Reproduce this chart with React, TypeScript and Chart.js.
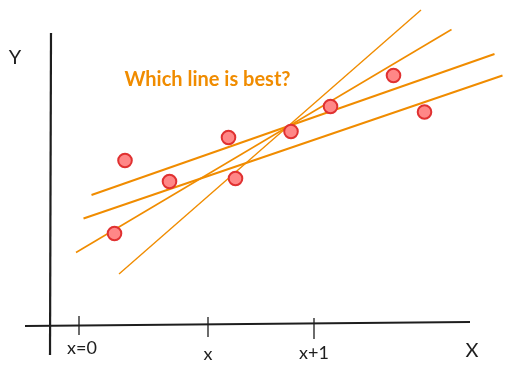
import React, { useEffect, useRef } from "react";
import { Chart, registerables } from "chart.js";

Chart.register(...registerables);

// Data points (abstract units)
const pointXs = [1.5, 1.29, 2.39, 3.57, 3.71, 4.82, 5.61, 6.87, 7.49];
const pointYs = [3.29, 1.83, 2.87, 3.75, 2.93, 3.87, 4.37, 4.99, 4.26];

// Candidate lines: [x1, y1, x2, y2]
const lineA = [1.38, 1.02, 7.42, 6.3];
const lineB = [0.52, 1.45, 8.03, 5.91];
const lineC = [0.83, 2.6, 8.89, 5.42];
const lineD = [0.67, 2.13, 9.05, 4.99];

// Axes
const xAxisLine = [-0.5, -0.02, 8.4, 0.06];
const yAxisLine = [0.02, 5.84, 0.0, -0.6];

// Ticks on the x axis
const tickXs = [0.58, 3.16, 5.28];
const tickLabels = ["x=0", "x", "x+1"];
const tickLabelYs = [-0.46, -0.58, -0.56];

const title = "Which line is best?";
const xAxisTitle = "X";
const yAxisTitle = "Y";

const ORANGE = "#f08c00";
const INK = "#1e1e1e";
const FONT = "Lato, 'Noto Sans', sans-serif";

const seg = (l: number[]) => [
  { x: l[0], y: l[1] },
  { x: l[2], y: l[3] },
];

export default function App() {
  const ref = useRef<HTMLCanvasElement | null>(null);

  useEffect(() => {
    if (!ref.current) return;
    const lineDs = (l: number[], w: number, color: string) => ({
      type: "line" as const,
      data: seg(l),
      borderColor: color,
      borderWidth: w,
      pointRadius: 0,
      fill: false,
      clip: false as any,
      order: 2,
    });

    const textPlugin = {
      id: "labels",
      afterDatasetsDraw(chart: any) {
        const { ctx, scales } = chart;
        const xs = scales.x;
        const ys = scales.y;
        ctx.save();
        ctx.textAlign = "center";
        ctx.textBaseline = "middle";
        ctx.fillStyle = INK;
        ctx.font = `18px ${FONT}`;
        tickLabels.forEach((t, i) => {
          ctx.fillText(t, xs.getPixelForValue(tickXs[i]) + (i === 0 ? 3 : 0), ys.getPixelForValue(tickLabelYs[i]));
        });
        ctx.font = `20px ${FONT}`;
        ctx.fillText(xAxisTitle, xs.getPixelForValue(8.44), ys.getPixelForValue(-0.52));
        ctx.fillText(yAxisTitle, xs.getPixelForValue(-0.7), ys.getPixelForValue(5.35));
        ctx.fillStyle = ORANGE;
        ctx.font = `bold 20px ${FONT}`;
        ctx.fillText(title, xs.getPixelForValue(3.15), ys.getPixelForValue(4.9));
        ctx.restore();
      },
    };

    const chart = new Chart(ref.current, {
      type: "scatter",
      data: {
        datasets: [
          lineDs(xAxisLine, 2.2, INK),
          lineDs(yAxisLine, 2.2, INK),
          ...tickXs.map((tx, i) =>
            lineDs([tx, 0.18 - i * 0.02, tx, -0.2 - i * 0.04], 1.3, INK)
          ),
          lineDs(lineA, 1.4, ORANGE),
          lineDs(lineB, 1.6, ORANGE),
          lineDs(lineC, 2, ORANGE),
          lineDs(lineD, 2, ORANGE),
          {
            type: "scatter" as const,
            data: pointXs.map((x, i) => ({ x, y: pointYs[i] })),
            backgroundColor: "#ff8787",
            borderColor: "#e03131",
            borderWidth: 2,
            pointRadius: 6.8,
            clip: false as any,
            order: 1,
          },
        ] as any,
      },
      options: {
        animation: false,
        responsive: false,
        maintainAspectRatio: false,
        layout: { padding: { left: 50, right: 13, top: 25, bottom: 50 } },
        plugins: { legend: { display: false }, tooltip: { enabled: false } },
        scales: {
          x: { type: "linear", min: 0, max: 9, display: false },
          y: { type: "linear", min: 0, max: 6, display: false },
        },
      },
      plugins: [textPlugin],
    });
    return () => chart.destroy();
  }, []);

  return (
    <div style={{ position: "absolute", left: 0, top: 0, width: 513, height: 375, background: "#fff" }}>
      <canvas ref={ref} width={513} height={375} style={{ width: 513, height: 375, display: "block" }} />
    </div>
  );
}
